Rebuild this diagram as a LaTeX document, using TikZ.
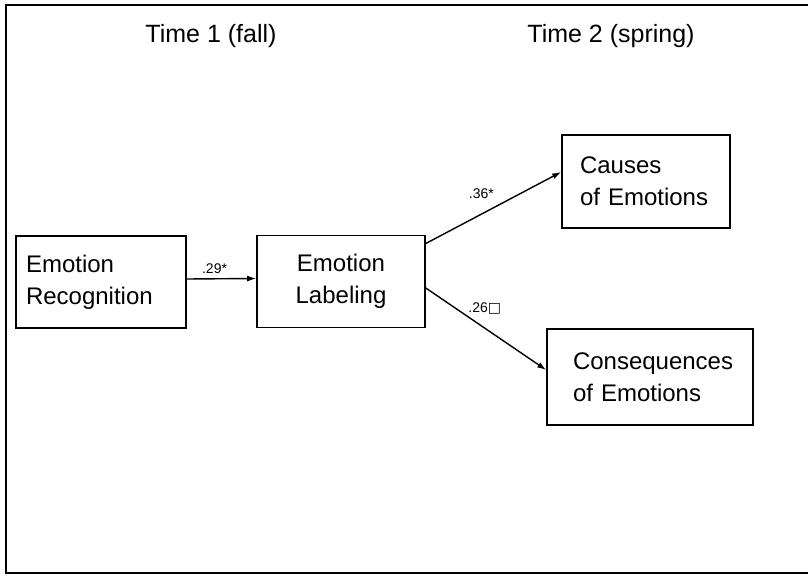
\documentclass[tikz,border=0pt]{standalone}
\usepackage{fontspec}
\setmainfont{Liberation Sans}
\newfontfamily\symfont{DejaVu Sans}
\usetikzlibrary{arrows, arrows.meta, positioning}
\tikzstyle{box}=[draw, line width=1.6pt, font=\fontsize{24}{32}\selectfont, align=left, minimum height=92pt, inner ysep=0pt]
\tikzstyle{arr} = [line width=1.4pt,->,>={Latex[length=9pt,width=6pt]}]
\tikzstyle{lab} = [font=\fontsize{14}{16}\selectfont, inner sep=1pt]
\tikzstyle{head} = [font=\fontsize{25}{30}\selectfont]

\begin{document}
\begin{tikzpicture}[x=1pt, y=-1pt]
    \useasboundingbox (0,0) rectangle (808,577);
    \draw[line width=1.6pt] (808,5) -- (6,5) -- (6,573) -- (808,573);

    \node [head] (T1) at (211,36) {Time 1 (fall)};
    \node [head] (T2) at (611,36) {Time 2 (spring)};

    \node [box, text width=150pt, inner xsep=10pt](ER) at (101,282) {Emotion\\Recognition};
    \node [box, align=center, text width=148pt, inner xsep=10pt](EL) at (341,281.5) {Emotion\\Labeling};
    \node [box, text width=132pt, inner xsep=18pt, minimum height=93pt](CA) at (646,181.5) {Causes\\of Emotions};
    \node [box, text width=154pt, inner xsep=26pt, minimum height=96pt](CO) at (650,377) {Consequences\\of Emotions};

    \path ([yshift=3pt]ER.east) edge[arr] node[lab, pos=.4, above=3pt] {.29*} ([yshift=3pt]EL.west);
    \path ([yshift=38pt]EL.east) edge[arr] node[lab, pos=.41, above=14pt] {.36*} ([yshift=9.5pt]CA.west);
    \path ([yshift=-6.5pt]EL.east) edge[arr] node[lab, pos=.49, above=12pt] {.26{\symfont □}} ([yshift=7pt]CO.west);
\end{tikzpicture}
\end{document}
